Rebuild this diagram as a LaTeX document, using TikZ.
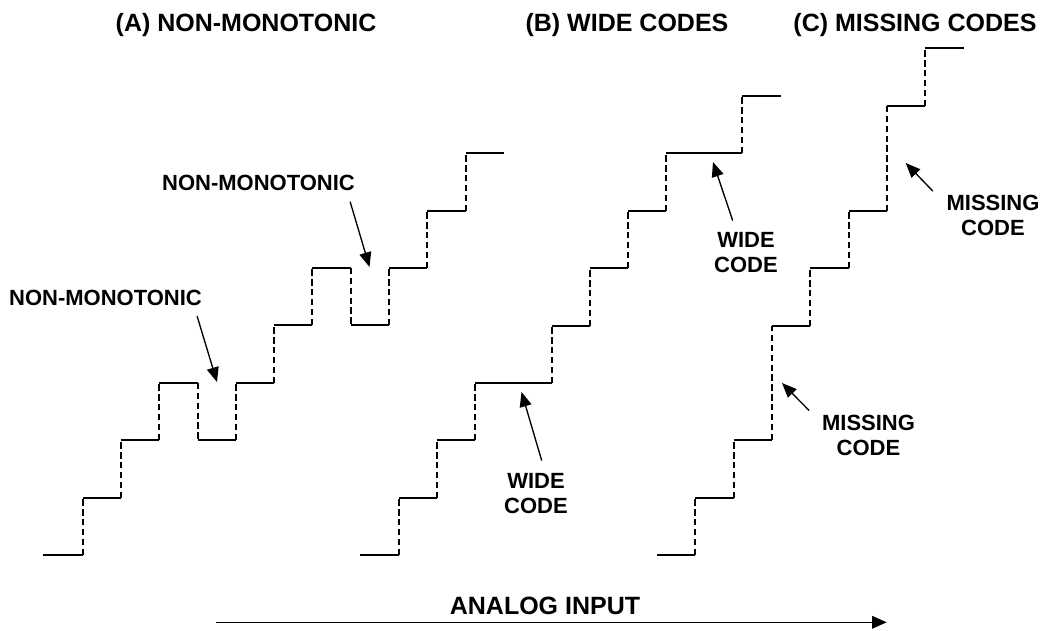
\documentclass[tikz,border=0pt]{standalone}
\usepackage{fontspec}
\setmainfont{Liberation Sans}
\usetikzlibrary{arrows.meta}

\begin{document}
\begin{tikzpicture}[
  x=0.75pt, y=-0.75pt,
  tread/.style={line width=1.3pt},
  riser/.style={line width=1.3pt, dash pattern=on 4.8pt off 2.6pt},
  ttl/.style={inner sep=0pt, anchor=base, font=\bfseries\fontsize{18.75}{22}\selectfont},
  lbl/.style={inner sep=0pt, align=center, font=\bfseries\fontsize{16.5}{18.75}\selectfont},
  arr/.style={-{Triangle[length=11pt, width=9pt]}, line width=1pt},
  axarr/.style={-{Triangle[length=11pt, width=9.5pt]}, line width=1pt}
]
  \useasboundingbox (0,0) rectangle (1063,631);

  % titles
  \node[ttl] (ttlA) at (246,31.5) {(A) NON-MONOTONIC};
  \node[ttl] (ttlB) at (627,31.5) {(B) WIDE CODES};
  \node[ttl] (ttlC) at (915,31.5) {(C) MISSING CODES};

  % (A) non-monotonic transfer function
  \foreach \xa/\xb/\ya/\yb in {43/83/555/498, 83/121/498/440, 121/159/440/383,
      159/198/383/440, 198/236/440/383, 236/274/383/325, 274/312/325/268,
      312/351/268/325, 351/389/325/268, 389/427/268/211, 427/466/211/153} {
    \draw[tread] (\xa,\ya) -- (\xb,\ya);
    \draw[riser] (\xb,\ya) -- (\xb,\yb);
  }
  \draw[tread] (466,153) -- (504,153);

  % (B) wide codes
  \foreach \xa/\xb/\ya/\yb in {360/399/555/498, 399/437/498/440, 437/475/440/383,
      475/552/383/326, 552/590/326/268, 590/628/268/211, 628/666/211/153,
      666/742/153/96} {
    \draw[tread] (\xa,\ya) -- (\xb,\ya);
    \draw[riser] (\xb,\ya) -- (\xb,\yb);
  }
  \draw[tread] (742,96) -- (781,96);

  % (C) missing codes
  \foreach \xa/\xb/\ya/\yb in {657/695/555/498, 695/734/498/440, 734/772/440/326,
      772/810/326/268, 810/849/268/211, 849/887/211/106, 887/925/106/48} {
    \draw[tread] (\xa,\ya) -- (\xb,\ya);
    \draw[riser] (\xb,\ya) -- (\xb,\yb);
  }
  \draw[tread] (925,48) -- (964,48);

  % labels
  \node[lbl] (nmA) at (105.5,297.5) {NON-MONOTONIC};
  \node[lbl] (nmB) at (258.5,183) {NON-MONOTONIC};
  \node[lbl] (wideB1) at (536,494) {WIDE\\CODE};
  \node[lbl] (wideB2) at (746,253) {WIDE\\CODE};
  \node[lbl] (missC1) at (868.5,435) {MISSING\\CODE};
  \node[lbl] (missC2) at (993,215) {MISSING\\CODE};

  \coordinate (tipA1) at (217,382);
  \coordinate (tipA2) at (369.5,267);
  \coordinate (tipB1) at (521.5,392);
  \coordinate (tipB2) at (713,162);
  \coordinate (tipC1) at (782,383);
  \coordinate (tipC2) at (905.7,163);

  \draw[arr] (nmA.south east) ++(-5,10.6) -- (tipA1);
  \draw[arr] (nmB.south east) ++(-5,10.6) -- (tipA2);
  \draw[arr] (wideB1.north) ++(5.7,-13) -- (tipB1);
  \draw[arr] (wideB2.north) ++(-13.3,-12) -- (tipB2);
  \draw[arr] (missC1.north west) ++(-12.7,-4) -- (tipC1);
  \draw[arr] (missC2.north west) ++(-13.4,-3.3) -- (tipC2);

  % input axis
  \node[ttl] (axis) at (545,614.5) {ANALOG INPUT};
  \coordinate (inL) at (216,622.3);
  \coordinate (inR) at (886.7,622.3);
  \draw[axarr] (inL) -- (inR);
\end{tikzpicture}
\end{document}
